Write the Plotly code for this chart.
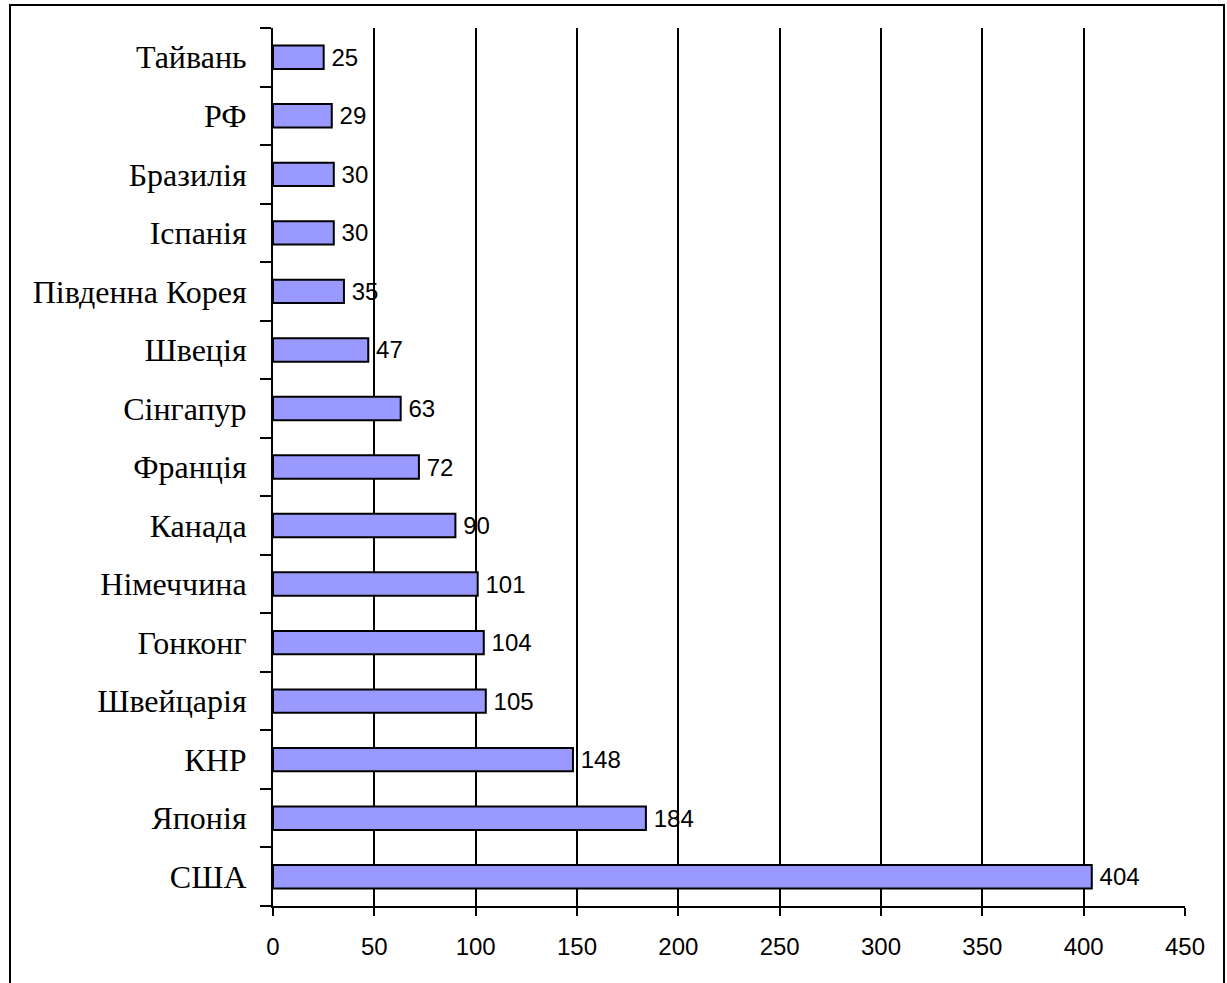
import plotly.graph_objects as go

# Countries listed bottom-to-top as they appear on the category axis
countries = [
    "США", "Японія", "КНР", "Швейцарія", "Гонконг", "Німеччина", "Канада",
    "Франція", "Сінгапур", "Швеція", "Південна Корея", "Іспанія",
    "Бразилія", "РФ", "Тайвань",
]
values = [404, 184, 148, 105, 104, 101, 90, 72, 63, 47, 35, 30, 30, 29, 25]
x_ticks = [0, 50, 100, 150, 200, 250, 300, 350, 400, 450]

W, H = 1227, 983
L, R, T, B = 273, 42, 28, 77

fig = go.Figure(
    go.Bar(
        x=values,
        y=countries,
        orientation="h",
        marker=dict(color="#9999FF", line=dict(color="black", width=2)),
        width=0.4,
        text=["\u2009" + str(v) for v in values],
        textposition="outside",
        constraintext="none",
        textfont=dict(family="Liberation Sans, Arial", size=24, color="black"),
        cliponaxis=False,
    )
)

pw = W - L - R
ph = H - T - B
# outer frame around the whole chart
fig.add_shape(
    type="rect", xref="paper", yref="paper",
    x0=(10 - L) / pw, x1=(1224 - L) / pw,
    y0=(H - 1010 - B) / ph, y1=(H - 5 - B) / ph,
    line=dict(color="black", width=2), layer="above",
)

fig.update_layout(
    width=W, height=H,
    margin=dict(l=L, r=R, t=T, b=B),
    paper_bgcolor="white", plot_bgcolor="white",
    showlegend=False,
    bargap=0.6,
    xaxis=dict(
        range=[0, 450], tickvals=x_ticks, ticktext=[str(v) for v in x_ticks],
        showgrid=True, gridcolor="black", gridwidth=1.6,
        showline=True, linecolor="black", linewidth=2,
        ticks="outside", ticklen=8, tickcolor="black", tickwidth=1.6,
        tickfont=dict(family="Liberation Sans, Arial", size=24, color="black"),
        ticklabelstandoff=10,
        zeroline=False, fixedrange=True,
    ),
    yaxis=dict(
        categoryorder="array", categoryarray=countries,
        showline=True, linecolor="black", linewidth=2,
        ticks="outside", ticklen=11, tickcolor="black", tickwidth=2,
        tickson="boundaries",
        tickfont=dict(family="Liberation Serif, Times New Roman", size=32, color="black"),
        ticklabelstandoff=18,
        showgrid=False, zeroline=False, fixedrange=True,
    ),
)

fig.write_html("out.html")
